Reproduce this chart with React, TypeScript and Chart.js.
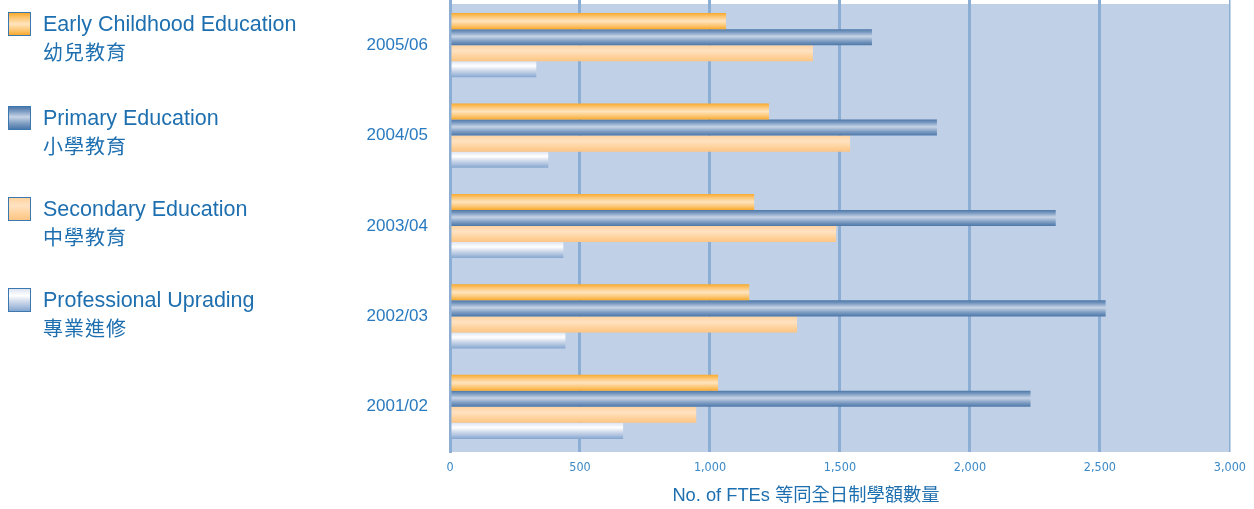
import React, { useEffect, useRef } from "react";
import { Chart, registerables } from "chart.js";

Chart.register(...registerables);

const categories = ["2005/06", "2004/05", "2003/04", "2002/03", "2001/02"];
const earlyChildhood = [1062, 1227, 1170, 1151, 1031];
const primary = [1623, 1873, 2330, 2522, 2233];
const secondary = [1396, 1539, 1485, 1335, 947];
const professional = [332, 378, 436, 444, 666];
const xTicks = [0, 500, 1000, 1500, 2000, 2500, 3000];

const seriesNames = [
  { en: "Early Childhood Education", zh: "幼兒教育" },
  { en: "Primary Education", zh: "小學教育" },
  { en: "Secondary Education", zh: "中學教育" },
  { en: "Professional Upgrading", zh: "專業進修" },
];
const legendTexts = [
  { en: "Early Childhood Education", zh: "幼兒教育" },
  { en: "Primary Education", zh: "小學教育" },
  { en: "Secondary Education", zh: "中學教育" },
  { en: "Professional Uprading", zh: "專業進修" },
];
const axisTitle = "No. of FTEs 等同全日制學額數量";

// gradient stops (top -> bottom) per series
const gradientStops: [number, string][][] = [
  [
    [0, "#F9A92A"],
    [0.2, "#FCC46E"],
    [0.5, "#FFE4BE"],
    [0.8, "#FCC46E"],
    [1, "#F9A92A"],
  ],
  [
    [0, "#4C77A8"],
    [0.2, "#7D9CC2"],
    [0.45, "#C7D4E6"],
    [0.75, "#7D9CC2"],
    [1, "#4C77A8"],
  ],
  [
    [0, "#FFD39F"],
    [0.35, "#FFE2C2"],
    [0.7, "#FFD29C"],
    [1, "#FCC585"],
  ],
  [
    [0, "#DDE4F1"],
    [0.3, "#FFFFFF"],
    [0.55, "#D3DCEC"],
    [0.8, "#A9BFDD"],
    [1, "#85A6CF"],
  ],
];

const BG = "#C0D0E6";
const GRID = "#8DAED4";
const TEXT = "#1E6FAF";

const gradientPlugin = {
  id: "barGradients",
  beforeDatasetsDraw(chart: any) {
    const ctx = chart.ctx;
    chart.data.datasets.forEach((_ds: any, di: number) => {
      const meta = chart.getDatasetMeta(di);
      meta.data.forEach((el: any) => {
        const { y, height } = el.getProps(["y", "height"], true);
        const h = Math.abs(height);
        const g = ctx.createLinearGradient(0, y - h / 2, 0, y + h / 2);
        gradientStops[di].forEach(([o, c]) => g.addColorStop(o, c));
        el.options = { ...el.options, backgroundColor: g };
      });
    });
  },
};

const bgPlugin = {
  id: "plotBg",
  beforeDraw(chart: any) {
    const { ctx, chartArea } = chart;
    ctx.save();
    ctx.fillStyle = BG;
    ctx.fillRect(chartArea.left, chartArea.top + 4, chartArea.right - chartArea.left, chartArea.bottom - chartArea.top - 4);
    ctx.restore();
  },
};

export default function App() {
  const ref = useRef<HTMLCanvasElement>(null);

  useEffect(() => {
    if (!ref.current) return;
    const data = [earlyChildhood, primary, secondary, professional];
    const chart = new Chart(ref.current, {
      type: "bar",
      data: {
        labels: categories,
        datasets: data.map((d, i) => ({
          label: seriesNames[i].en + " " + seriesNames[i].zh,
          data: d,
          backgroundColor: gradientStops[i][1][1],
          borderWidth: 0,
          categoryPercentage: 0.71,
          barPercentage: 1,
        })),
      },
      options: {
        indexAxis: "y",
        responsive: false,
        animation: false,
        devicePixelRatio: 1,
        layout: { padding: { left: 350, right: 23, top: 0, bottom: 0 } },
        plugins: {
          legend: { display: false },
          tooltip: { enabled: false },
          title: { display: false },
        },
        scales: {
          x: {
            type: "linear",
            min: 0,
            max: 3000,
            afterBuildTicks: (scale: any) => {
              scale.ticks = xTicks.map((v) => ({ value: v }));
            },
            grid: {
              color: GRID,
              lineWidth: (c: any) => (c.tick && c.tick.value === 3000 ? 1.5 : 3),
              drawTicks: false,
            },
            border: { display: false },
            ticks: {
              color: "#3A88C6",
              padding: 8,
              font: { family: '"DejaVu Sans Condensed", "Liberation Sans Narrow", sans-serif', size: 12.5 },
            },
            afterFit: (scale: any) => {
              scale.height = 57;
            },
          },
          y: {
            type: "category",
            grid: { display: false, drawTicks: false },
            border: { display: true, color: GRID, width: 3 },
            ticks: {
              color: "#2A7ABF",
              padding: 22,
              font: { family: '"Liberation Sans", sans-serif', size: 17 },
            },
            afterFit: (scale: any) => {
              scale.width = 100;
              scale.paddingTop = 0;
              scale.paddingBottom = 0;
            },
          },
        },
      } as any,
      plugins: [bgPlugin, gradientPlugin],
    });
    return () => chart.destroy();
  }, []);

  const legendTops = [12, 106, 197, 288];

  return (
    <div
      style={{
        position: "fixed",
        left: 0,
        top: 0,
        width: 1254,
        height: 509,
        background: "#fff",
        fontFamily: '"Liberation Sans", "Noto Sans CJK TC", sans-serif',
        color: TEXT,
      }}
    >
      <canvas ref={ref} width={1254} height={509} style={{ position: "absolute", left: 0, top: 0 }} />
      {legendTexts.map((t, i) => {
        const stops = gradientStops[i].map(([o, c]) => `${c} ${o * 100}%`).join(", ");
        const Y = legendTops[i];
        return (
          <React.Fragment key={i}>
            <div
              style={{
                position: "absolute",
                left: 8,
                top: Y,
                width: 21,
                height: 22,
                border: "1px solid #3C78B0",
                background: `linear-gradient(to bottom, ${stops})`,
              }}
            />
            <div
              style={{
                position: "absolute",
                left: 43,
                top: Y,
                fontSize: 21.5,
                lineHeight: "24px",
                whiteSpace: "nowrap",
              }}
            >
              {t.en}
            </div>
            <div
              style={{
                position: "absolute",
                left: 43,
                top: Y + 28,
                fontSize: 20,
                lineHeight: "24px",
                letterSpacing: 1,
                whiteSpace: "nowrap",
                fontFamily: '"Noto Sans CJK TC", sans-serif',
              }}
            >
              {t.zh}
            </div>
          </React.Fragment>
        );
      })}
      <div
        style={{
          position: "absolute",
          left: 606,
          width: 400,
          top: 483,
          textAlign: "center",
          fontSize: 18.3,
          lineHeight: "24px",
          whiteSpace: "nowrap",
        }}
      >
        {axisTitle}
      </div>
    </div>
  );
}
